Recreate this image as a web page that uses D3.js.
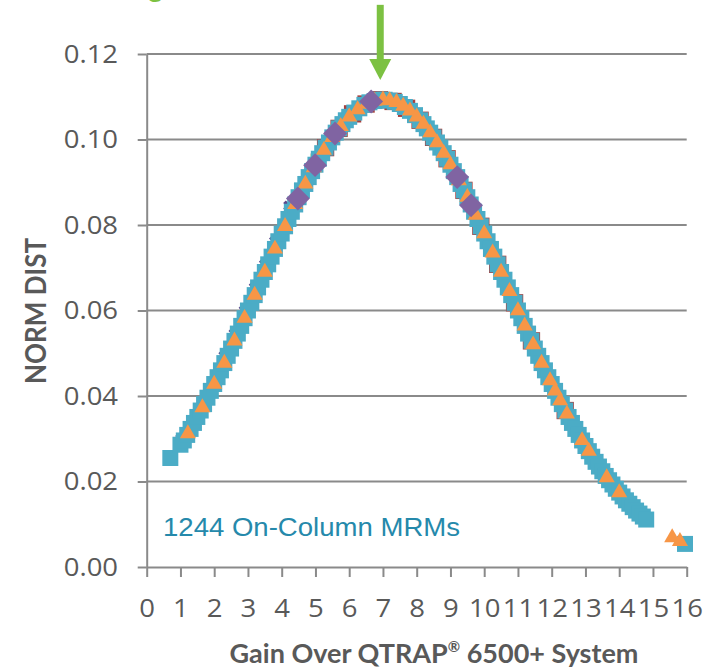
<!DOCTYPE html>
<html>
<head>
<meta charset="utf-8">
<script src="https://cdn.jsdelivr.net/npm/d3@7"></script>
<style>
  html, body { margin: 0; padding: 0; background: #ffffff; }
  svg { display: block; }
</style>
</head>
<body>
<svg id="chart" width="722" height="672"></svg>
<script>
// Normal-distribution fit of per-transition signal gain, several MRM series overlaid.

const xTicks = [0, 1, 2, 3, 4, 5, 6, 7, 8, 9, 10, 11, 12, 13, 14, 15, 16];
const yTicks = [0, 0.02, 0.04, 0.06, 0.08, 0.10, 0.12];

// [gain, NORM.DIST]
const tealSquares = [
  [0.7,0.0255],[1.0,0.0286],[1.1,0.0296],[1.2,0.0309],[1.3,0.0323],[1.4,0.0337],[1.5,0.0351],[1.6,0.0366],[1.7,0.0381],[1.8,0.0396],[1.9,0.0412],
  [2.0,0.0428],[2.1,0.0444],[2.2,0.0460],[2.3,0.0477],[2.4,0.0494],[2.5,0.0511],[2.6,0.0529],[2.7,0.0546],[2.8,0.0564],[2.9,0.0582],
  [3.0,0.0600],[3.1,0.0618],[3.2,0.0636],[3.3,0.0654],[3.4,0.0672],[3.5,0.0690],[3.6,0.0708],[3.7,0.0726],[3.8,0.0744],[3.9,0.0762],
  [4.0,0.0780],[4.1,0.0797],[4.2,0.0814],[4.3,0.0831],[4.4,0.0848],[4.5,0.0865],[4.6,0.0881],[4.7,0.0896],[4.8,0.0912],[4.9,0.0926],
  [5.0,0.0941],[5.1,0.0955],[5.2,0.0968],[5.3,0.0981],[5.4,0.0993],[5.5,0.1005],[5.6,0.1016],[5.7,0.1026],[5.8,0.1036],[5.9,0.1045],
  [6.0,0.1053],[6.15,0.1063],[6.3,0.1073],[6.45,0.1081],[6.6,0.1087],[6.75,0.1090],[6.9,0.1093],[7.05,0.1093],[7.2,0.1091],[7.35,0.1088],
  [7.5,0.1083],[7.65,0.1076],[7.8,0.1067],[7.95,0.1057],[8.1,0.1045],[8.2,0.1036],[8.3,0.1026],[8.4,0.1016],[8.5,0.1005],[8.6,0.0993],
  [8.7,0.0981],[8.8,0.0968],[8.9,0.0955],[9.0,0.0941],[9.1,0.0926],[9.2,0.0912],[9.3,0.0896],[9.4,0.0881],[9.5,0.0865],[9.6,0.0848],
  [9.7,0.0831],[9.8,0.0814],[9.9,0.0797],[10.0,0.0780],[10.1,0.0762],[10.2,0.0744],[10.3,0.0726],[10.4,0.0708],[10.5,0.0690],[10.6,0.0672],
  [10.7,0.0654],[10.8,0.0636],[10.9,0.0618],[11.0,0.0600],[11.1,0.0582],[11.2,0.0564],[11.3,0.0546],[11.4,0.0529],[11.5,0.0511],[11.6,0.0494],
  [11.7,0.0477],[11.8,0.0460],[11.9,0.0444],[12.0,0.0428],[12.1,0.0412],[12.2,0.0396],[12.3,0.0381],[12.4,0.0366],[12.5,0.0351],[12.6,0.0337],
  [12.7,0.0323],[12.8,0.0309],[12.9,0.0296],[13.0,0.0283],[13.1,0.0271],[13.2,0.0258],[13.3,0.0246],[13.4,0.0235],[13.5,0.0224],[13.6,0.0213],
  [13.7,0.0203],[13.8,0.0193],[13.9,0.0183],[14.0,0.0174],[14.1,0.0165],[14.2,0.0156],[14.3,0.0148],[14.4,0.0140],[14.5,0.0132],[14.6,0.0125],
  [14.7,0.0118],[14.8,0.0111],[15.95,0.0054]
];

const orangeTriangles = [
  [1.22,0.0312],[1.65,0.0373],[2.0,0.0428],[2.3,0.0477],[2.6,0.0529],[2.9,0.0582],[3.2,0.0636],[3.5,0.0690],[3.8,0.0744],[4.1,0.0797],
  [4.4,0.0848],[4.7,0.0896],[4.95,0.0934],[5.25,0.0975],[5.5,0.1005],[5.75,0.1031],[6.0,0.1053],[6.25,0.1070],[6.5,0.1083],[6.75,0.1090],
  [7.0,0.1093],[7.2,0.1091],[7.4,0.1087],[7.6,0.1078],[7.8,0.1067],[8.0,0.1053],[8.2,0.1036],[8.4,0.1016],[8.6,0.0993],[8.8,0.0968],
  [9.0,0.0941],[9.25,0.0904],[9.5,0.0865],[9.75,0.0823],[10.0,0.0780],[10.25,0.0735],[10.5,0.0690],[10.75,0.0645],[11.0,0.0600],[11.2,0.0564],
  [11.45,0.0520],[11.7,0.0477],[11.95,0.0436],[12.1,0.0412],[12.25,0.0389],[12.45,0.0358],[12.9,0.0296],[13.1,0.0271],[13.63,0.0209],[14.0,0.0174],
  [15.57,0.0069],[15.8,0.0060]
];

const purpleDiamonds = [
  [4.48,0.0862],[4.99,0.0940],[5.58,0.1014],[6.65,0.1089],[9.2,0.0912],[9.61,0.0846]
];

const redSquares = [
  [5.3,0.0981],[5.7,0.1026],[6.1,0.1060],[6.5,0.1083],[6.9,0.1093],[7.3,0.1089],[7.7,0.1073],[8.1,0.1045],
  [8.5,0.1005],[8.9,0.0955],[9.4,0.0881],[9.9,0.0797],[10.4,0.0708],[10.9,0.0618],[11.4,0.0529],[12.4,0.0366]
];

const violetCrosses = [
  [1.0,0.0300],[2.28,0.0494],[2.58,0.0546],[2.88,0.0600],[3.18,0.0654],[3.48,0.0708],[3.78,0.0762],[4.2,0.0845]
];

const greenDots = [
  [4.95,0.0960],[5.35,0.1000],[5.9,0.1052]
];

// Arrow marking the peak: position, top and tip in data units
const arrowGain = 6.92;
const arrowTop = 0.1315;
const arrowTip = 0.1139;

const svg = d3.select("#chart");
const STRETCH = 1.1;
const GRID = "#8a8a8a";
const TEXT = "#595959";

const x = d3.scaleLinear().domain([0, 16]).range([146.7, 686.7]);
const y = d3.scaleLinear().domain([0, 0.12]).range([567, 54]);

// horizontal gridlines
svg.append("g")
  .selectAll("line")
  .data(yTicks.filter(d => d > 0))
  .join("line")
  .attr("x1", x(0)).attr("x2", x(16))
  .attr("y1", d => y(d)).attr("y2", d => y(d))
  .attr("stroke", GRID).attr("stroke-width", 2);

// y axis
const gy = svg.append("g")
  .attr("transform", `translate(${x(0)},0)`)
  .call(d3.axisLeft(y).tickValues(yTicks).tickFormat(d3.format(".2f")).tickSize(9).tickSizeOuter(0));
gy.select(".domain").attr("stroke", GRID).attr("stroke-width", 2);
gy.selectAll(".tick line").attr("stroke", GRID).attr("stroke-width", 2);
gy.selectAll(".tick text")
  .attr("x", -26)
  .attr("transform", `scale(${STRETCH},1)`)
  .attr("fill", TEXT)
  .attr("font-family", "'Open Sans', sans-serif")
  .attr("font-size", 25);

// x axis
const gx = svg.append("g")
  .attr("transform", `translate(0,${y(0)})`)
  .call(d3.axisBottom(x).tickValues(xTicks).tickFormat(d3.format("d")).tickSize(10).tickSizeOuter(0));
gx.select(".domain").attr("stroke", GRID).attr("stroke-width", 2);
gx.selectAll(".tick line").attr("stroke", GRID).attr("stroke-width", 2);
gx.selectAll(".tick text")
  .attr("y", 32)
  .attr("transform", `scale(${STRETCH},1)`)
  .attr("fill", TEXT)
  .attr("font-family", "'Open Sans', sans-serif")
  .attr("font-size", 25);

// markers
const sym = (type, size) => d3.symbol().type(type).size(size)();

function plot(data, type, size, fill, rotate) {
  svg.append("g")
    .selectAll("path")
    .data(data)
    .join("path")
    .attr("d", sym(type, size))
    .attr("transform", d => `translate(${x(d[0])},${y(d[1])})` + (rotate ? ` rotate(${rotate})` : ""))
    .attr("fill", fill);
}

plot(redSquares, d3.symbolSquare, 300, "#a6403d");
plot(violetCrosses, d3.symbolCross, 70, "#5b4a8c", 45);
plot(greenDots, d3.symbolSquare, 40, "#8aab4e");
plot(tealSquares, d3.symbolSquare, 256, "#4bacc6");
plot(orangeTriangles, d3.symbolTriangle, 112, "#f79646");
plot(purpleDiamonds, d3.symbolSquare, 285, "#8064a2", 45);

// annotation
svg.append("text")
  .attr("transform", `translate(163,536) scale(1.06,1)`)
  .attr("fill", "#2589ab")
  .attr("font-family", "'Liberation Sans', Arial, sans-serif")
  .attr("font-size", 26)
  .text("1244 On-Column MRMs");

// peak arrow
const ax = x(arrowGain), aTop = y(arrowTop), aTip = y(arrowTip);
svg.append("line")
  .attr("x1", ax).attr("x2", ax)
  .attr("y1", aTop).attr("y2", aTip - 18)
  .attr("stroke", "#7cc142").attr("stroke-width", 7);
svg.append("path")
  .attr("d", `M${ax - 11},${aTip - 21}L${ax + 11},${aTip - 21}L${ax},${aTip}Z`)
  .attr("fill", "#7cc142");

// descender of the green heading above the chart
svg.append("text")
  .attr("x", 148).attr("y", -3)
  .attr("fill", "#7cc142")
  .attr("font-family", "Lato, sans-serif")
  .attr("font-weight", 700)
  .attr("font-size", 28)
  .text("g");

// axis titles
const xt = svg.append("text")
  .attr("transform", `translate(434,663)`)
  .attr("text-anchor", "middle")
  .attr("fill", TEXT)
  .attr("font-family", "Lato, sans-serif")
  .attr("font-weight", 700)
  .attr("font-size", 27);
xt.append("tspan").text("Gain Over QTRAP");
xt.append("tspan").attr("font-size", 15).attr("dy", -11).text("®");
xt.append("tspan").attr("dy", 11).text(" 6500+ System");

svg.append("text")
  .attr("transform", `translate(46,311) scale(${STRETCH},1) rotate(-90)`)
  .attr("text-anchor", "middle")
  .attr("fill", TEXT)
  .attr("font-family", "Lato, sans-serif")
  .attr("font-weight", 700)
  .attr("font-size", 26)
  .text("NORM DIST");
</script>
</body>
</html>
